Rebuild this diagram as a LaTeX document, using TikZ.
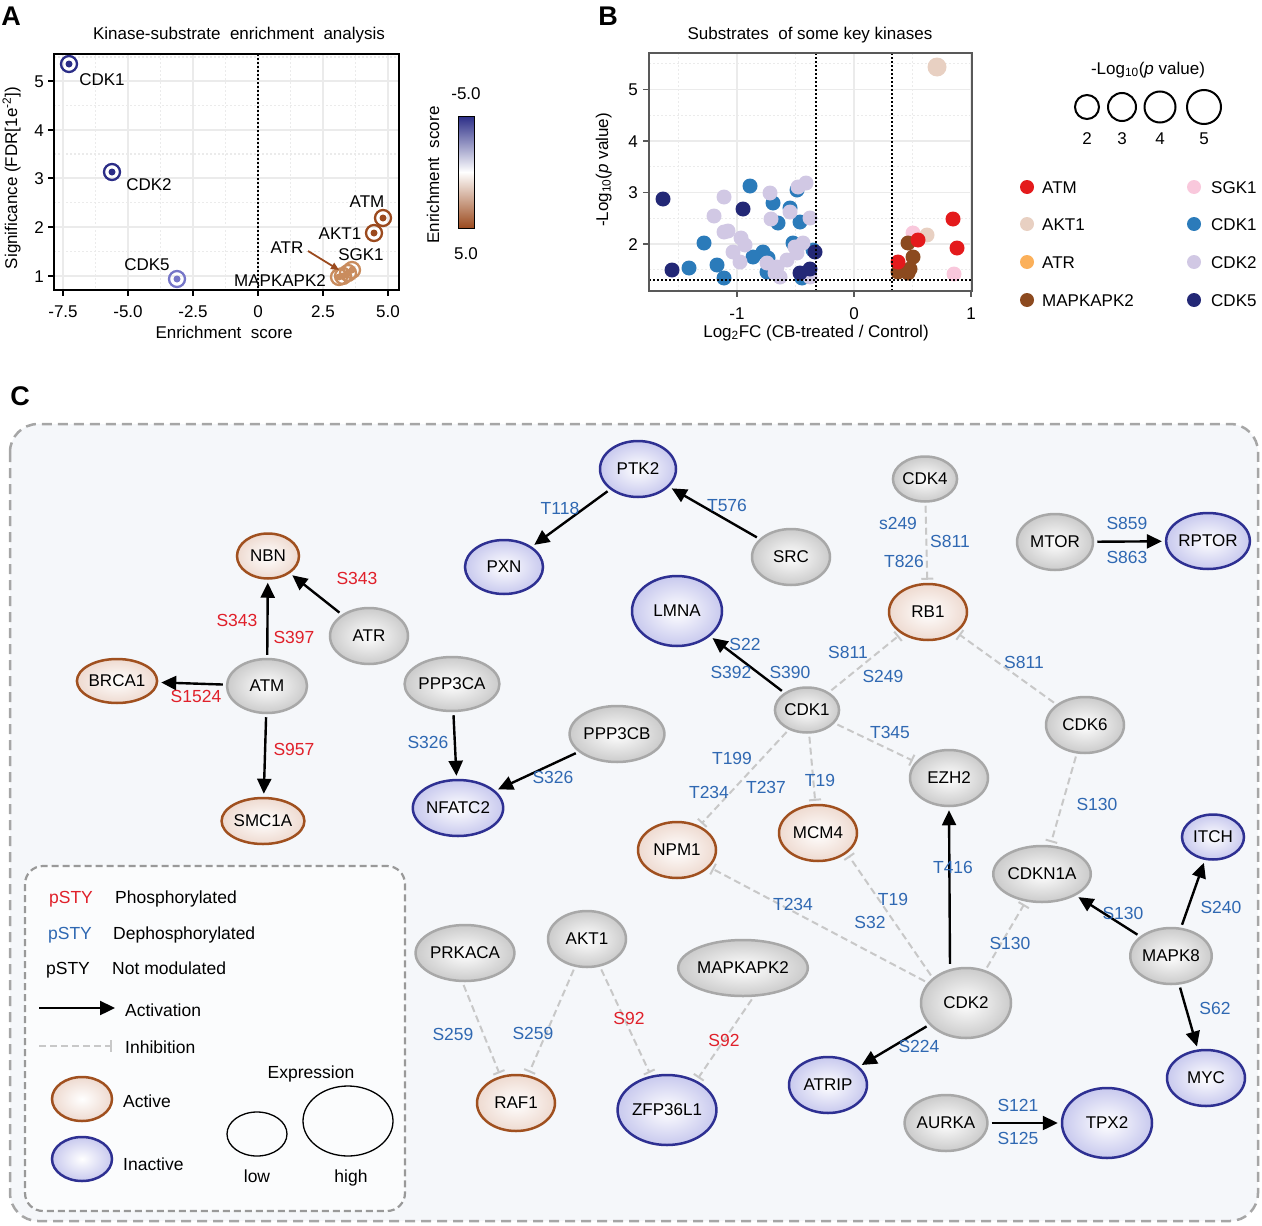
\documentclass[tikz,border=0pt]{standalone}
\usepackage{fontspec}
\setmainfont{Liberation Sans}
\usetikzlibrary{shapes.geometric,arrows.meta}
\definecolor{navyA}{HTML}{2B2D87}
\definecolor{lnavy}{HTML}{7676C8}
\definecolor{brownA}{HTML}{9B4A1E}
\definecolor{lbrown}{HTML}{C98C5E}
\definecolor{cATM}{HTML}{E41A1C}
\definecolor{cAKT}{HTML}{E8D0C2}
\definecolor{cATR}{HTML}{FBB05A}
\definecolor{cMAP}{HTML}{8C4A1F}
\definecolor{cSGK}{HTML}{F9C8DC}
\definecolor{cCDK1}{HTML}{2B7BBA}
\definecolor{cCDK2}{HTML}{D1C8E4}
\definecolor{cCDK5}{HTML}{232876}
\definecolor{phred}{HTML}{E0202A}
\definecolor{dpblue}{HTML}{2F68B2}
\definecolor{kinb}{HTML}{A8A8A8}
\definecolor{kinf}{HTML}{CBCBCB}
\definecolor{actb}{HTML}{A0501F}
\definecolor{actf}{HTML}{EEDAD0}
\definecolor{inab}{HTML}{2E3092}
\definecolor{inaf}{HTML}{C8C9EE}
\definecolor{inhc}{HTML}{C8C8C8}
\definecolor{bgC}{HTML}{F5F7FA}
\definecolor{gridc}{HTML}{EBEBEB}
\begin{document}
\begin{tikzpicture}[x=1pt,y=-1pt,
  txt/.style={font=\fontsize{17.5}{20}\selectfont, inner sep=0pt, text height=12.5pt, text depth=0pt},
  axt/.style={font=\fontsize{17}{20}\selectfont, inner sep=0pt, text height=12.2pt, text depth=0pt},
  ph/.style={txt, text=phred},
  dp/.style={txt, text=dpblue},
  nd/.style={ellipse, inner sep=0pt, line width=2.5pt, font=\fontsize{17}{20}\selectfont, minimum width=78pt, minimum height=56pt},
  kin/.style={nd, draw=kinb, inner color=white, outer color=kinf},
  act/.style={nd, draw=actb, inner color=white, outer color=actf},
  ina/.style={nd, draw=inab, inner color=white, outer color=inaf},
  big/.style={minimum width=90pt, minimum height=70pt},
  sml/.style={minimum width=62pt, minimum height=45pt},
  arr/.style={-{Triangle[length=15pt,width=14pt]}, line width=2.4pt, shorten >=3pt, shorten <=3pt},
  inh/.style={-{Bar[width=12pt,line width=2pt]}, draw=inhc, line width=2pt, dash pattern=on 7pt off 4pt, shorten >=3pt, shorten <=3pt},
  gmaj/.style={draw=gridc, line width=1.5pt},
  gmin/.style={draw=gridc, line width=1.3pt, dash pattern=on 1.5pt off 2.5pt},
  dotblk/.style={draw=black, line width=2pt, dash pattern=on 2pt off 2pt},
  panel/.style={font=\fontsize{27}{30}\selectfont\bfseries, inner sep=0pt}
]
\useasboundingbox (0,0) rectangle (1262,1226);

%================ Panel A =================
\node[panel] (pA) at (11,16) {A};
\node[axt] (tA) at (239,33) {Kinase-substrate\ \ enrichment\ \ analysis};
\begin{scope}
\clip (54,54) rectangle (399,290);
\foreach \x in {63,128,193,258,323,388} \draw[gmaj] (\x,54) -- (\x,290);
\foreach \x in {95.5,160.5,225.5,290.5,355.5} \draw[gmin] (\x,54) -- (\x,290);
\foreach \y in {276,227,178,130,81} \draw[gmaj] (54,\y) -- (399,\y);
\foreach \y in {251.5,202.5,154,105.5,57} \draw[gmin] (54,\y) -- (399,\y);
\draw[dotblk] (258,54) -- (258,290);
\foreach \x/\y/\c in {69/64/navyA,112/172/navyA,177/279/lnavy,383/218/brownA,374/233/brownA,343/276/lbrown,352/270/lbrown,348/273/lbrown,339/277/lbrown}{
  \draw[\c, line width=2.3pt] (\x,\y) circle[radius=8pt];
  \fill[\c] (\x,\y) circle[radius=3.5pt];
}
\end{scope}
\draw[line width=2.2pt] (54,54) rectangle (399,290);
\foreach \x/\t in {63/-7.5,128/-5.0,193/-2.5,258/0,323/2.5,388/5.0}{
  \draw[line width=1.5pt] (\x,290) -- (\x,296);
  \node[axt] (ax\x) at (\x,311) {\t};
}
\foreach \y/\t in {276/1,227/2,178/3,130/4,81/5}{
  \draw[line width=1.5pt] (48,\y) -- (54,\y);
  \node[axt, anchor=east] (ay\t) at (44,\y) {\t};
}
\node[axt] (xlA) at (224,332) {Enrichment\ \ score};
\node[axt, rotate=90] (ylA) at (11,178) {Significance (FDR[1e\textsuperscript{-2}])};
\node[axt] (aCDK1) at (102,79) {CDK1};
\node[axt] (aCDK2) at (149,184) {CDK2};
\node[axt] (aCDK5) at (147,264) {CDK5};
\node[axt] (aATM) at (367,201) {ATM};
\node[axt] (aAKT1) at (340,233) {AKT1};
\node[axt] (aATR) at (287,247) {ATR};
\node[axt] (aSGK1) at (361,254) {SGK1};
\node[axt] (aMAP) at (280,280) {MAPKAPK2};
\coordinate (arrs) at (308,251);
\coordinate (arre) at (339,270);
\draw[brownA, line width=1.8pt, -{Triangle[length=8pt,width=7pt]}] (arrs) -- (arre);
% colorbar
\shade[top color=navyA, bottom color=white] (458,116) rectangle (474,172);
\shade[top color=white, bottom color=brownA] (458,172) rectangle (474,228);
\draw[line width=1pt] (458,116) rectangle (474,228);
\node[axt] (cb1) at (466,93) {-5.0};
\node[axt] (cb2) at (466,253) {5.0};
\node[axt, rotate=90] (cbl) at (433,175) {Enrichment\ \ score};

%================ Panel B =================
\node[panel] (pB) at (608,16) {B};
\node[axt] (tB) at (810,33) {Substrates\ \ of some key kinases};
\begin{scope}
\clip (649,53) rectangle (972,291);
\foreach \x in {737,854,971} \draw[gmaj] (\x,53) -- (\x,291);
\foreach \x in {678.5,795.5,912.5} \draw[gmin] (\x,53) -- (\x,291);
\foreach \y in {244,192.5,141,89.5} \draw[gmaj] (649,\y) -- (972,\y);
\foreach \y in {269.75,218.25,166.75,115.25,63.75} \draw[gmin] (649,\y) -- (972,\y);
\foreach \x/\y in {750/186,704/243,689/268,717/265,724/278,773/203,778/223,797/190,790/208,800/222,793/243,753/257,763/252,768/258,767/272,802/278,813/250}
  \fill[cCDK1] (\x,\y) circle[radius=7.5pt];
\foreach \x/\y in {724/197,714/216,724/232,728/231,741/238,745/245,733/252,740/262,770/193,771/219,790/212,798/187,806/183,810/218,795/247,803/243,787/260,777/267,767/263,780/277,810/277,797/253,775/273}
  \fill[cCDK2] (\x,\y) circle[radius=7.5pt];
\foreach \x/\y in {663/199,672/270,743/209,815/252,810/269,800/273}
  \fill[cCDK5] (\x,\y) circle[radius=7.5pt];
\foreach \x/\y in {913/233,954/274} \fill[cSGK] (\x,\y) circle[radius=7.5pt];
\fill[cAKT] (927,235) circle[radius=7.5pt];
\fill[cAKT] (937,67) circle[radius=9.5pt];
\foreach \x/\y in {908/243,913/257,910/269,898/272,908/273} \fill[cMAP] (\x,\y) circle[radius=7.5pt];
\foreach \x/\y in {953/219,957/248,918/240,898/262} \fill[cATM] (\x,\y) circle[radius=7.5pt];
\draw[dotblk] (816,53) -- (816,291);
\draw[dotblk] (892,53) -- (892,291);
\draw[dotblk] (649,280) -- (972,280);
\end{scope}
\draw[line width=2.4pt, draw=black!65] (649,53) rectangle (972,291);
\foreach \x/\t in {737/-1,854/0,971/1}{
  \draw[line width=1.5pt, draw=black!65] (\x,291) -- (\x,297);
  \node[axt] (bx\t) at (\x,313) {\t};
}
\foreach \y/\t in {244/2,192.5/3,141/4,89.5/5}{
  \draw[line width=1.5pt, draw=black!65] (643,\y) -- (649,\y);
  \node[axt, anchor=east] (by\t) at (638,\y) {\t};
}
\node[axt] (xlB) at (816,331) {Log\textsubscript{2}FC (CB-treated / Control)};
\node[axt, rotate=90] (ylB) at (602,170) {-Log\textsubscript{10}(\textit{p} value)};
% legend B
\node[axt] (lgt) at (1148,68) {-Log\textsubscript{10}(\textit{p} value)};
\foreach \x/\r/\t in {1087/12/2,1122/14/3,1160/15.5/4,1204/17/5}{
  \draw[line width=2pt] (\x,107) circle[radius=\r pt];
  \node[axt] (lgn\t) at (\x,138) {\t};
}
\foreach \y/\c/\t [count=\i] in {187/cATM/ATM,224/cAKT/AKT1,262/cATR/ATR,300/cMAP/MAPKAPK2}{
  \fill[\c] (1027,\y) circle[radius=7pt];
  \node[axt, anchor=west] (lgl\i) at (1042,\y) {\t};
}
\foreach \y/\c/\t [count=\i] in {187/cSGK/SGK1,224/cCDK1/CDK1,262/cCDK2/CDK2,300/cCDK5/CDK5}{
  \fill[\c] (1194,\y) circle[radius=7pt];
  \node[axt, anchor=west] (lgr\i) at (1211,\y) {\t};
}

%================ Panel C =================
\node[panel] (pC) at (20,396) {C};
\draw[draw=black!35, fill=bgC, line width=2.5pt, dash pattern=on 10pt off 6pt, rounded corners=28pt] (10,424) rectangle (1258,1221);

% legend box
\draw[draw=black!40, fill=white!60!bgC, line width=2.2pt, dash pattern=on 7pt off 4pt, rounded corners=18pt] (25,866) rectangle (405,1211);
\node[ph] (lg1a) at (71,897) {pSTY};
\node[txt, anchor=west] (lg1b) at (115,897) {Phosphorylated};
\node[dp] (lg2a) at (70,933) {pSTY};
\node[txt, anchor=west] (lg2b) at (113,933) {Dephosphorylated};
\node[txt] (lg3a) at (68,968) {pSTY};
\node[txt, anchor=west] (lg3b) at (112,968) {Not modulated};
\coordinate (la1) at (39,1008);
\coordinate (la2) at (115,1008);
\draw[arr, shorten >=0pt, shorten <=0pt] (la1) -- (la2);
\node[txt, anchor=west] (lg4) at (125,1010) {Activation};
\coordinate (li1) at (39,1046);
\coordinate (li2) at (112,1046);
\draw[inh, shorten >=0pt, shorten <=0pt] (li1) -- (li2);
\node[txt, anchor=west] (lg5) at (125,1047) {Inhibition};
\node[act, minimum width=60pt, minimum height=44pt] (lgact) at (82,1099) {};
\node[txt, anchor=west] (lg6) at (123,1101) {Active};
\node[ina, minimum width=60pt, minimum height=44pt] (lgina) at (82,1159) {};
\node[txt, anchor=west] (lg7) at (123,1164) {Inactive};
\node[txt] (lg8) at (311,1072) {Expression};
\node[ellipse, draw, line width=1.3pt, minimum width=60pt, minimum height=44pt] (lglow) at (257,1134) {};
\node[ellipse, draw, line width=1.3pt, minimum width=90pt, minimum height=70pt] (lghigh) at (348,1121) {};
\node[txt] (lg9) at (257,1176) {low};
\node[txt] (lg10) at (351,1176) {high};

% nodes
\node[act, sml] (NBN) at (268,556) {NBN};
\node[kin] (ATR) at (369,636) {ATR};
\node[kin, minimum width=80pt, minimum height=54pt] (ATM) at (267,686) {ATM};
\node[act, minimum width=60pt, minimum height=44pt] (BRCA1) at (117,681) {BRCA1};
\node[act, minimum width=60pt, minimum height=46pt] (SMC1A) at (263,821) {SMC1A};
\node[ina, minimum width=76pt] (PTK2) at (638,469) {PTK2};
\node[ina, minimum height=54pt] (PXN) at (504,567) {PXN};
\node[kin] (SRC) at (791,557) {SRC};
\node[ina, big] (LMNA) at (677,611) {LMNA};
\node[kin, minimum height=54pt] (PPP3CA) at (452,684) {PPP3CA};
\node[kin, minimum width=76pt] (PPP3CB) at (617,734) {PPP3CB};
\node[kin, sml] (CDK1) at (807,710) {CDK1};
\node[ina] (NFATC2) at (458,808) {NFATC2};
\node[kin, sml] (CDK4) at (925,479) {CDK4};
\node[kin, minimum width=76pt] (MTOR) at (1055,542) {MTOR};
\node[ina] (RPTOR) at (1208,541) {RPTOR};
\node[act] (RB1) at (928,612) {RB1};
\node[kin] (CDK6) at (1085,725) {CDK6};
\node[kin] (EZH2) at (949,778) {EZH2};
\node[ina, sml] (ITCH) at (1213,837) {ITCH};
\node[kin] (CDKN1A) at (1042,874) {CDKN1A};
\node[kin] (MAPK8) at (1171,956) {MAPK8};
\node[kin, big] (CDK2) at (966,1003) {CDK2};
\node[ina] (MYC) at (1206,1078) {MYC};
\node[kin] (AURKA) at (946,1123) {AURKA};
\node[ina, big] (TPX2) at (1107,1123) {TPX2};
\node[act] (NPM1) at (677,850) {NPM1};
\node[act] (MCM4) at (818,833) {MCM4};
\node[kin] (PRKACA) at (465,953) {PRKACA};
\node[kin] (AKT1) at (587,939) {AKT1};
\node[kin, minimum width=74pt] (MAPKAPK2) at (743,968) {MAPKAPK2};
\node[act] (RAF1) at (516,1103) {RAF1};
\node[ina, big] (ZFP36L1) at (667,1110) {ZFP36L1};
\node[ina] (ATRIP) at (828,1085) {ATRIP};

% activation edges
\draw[arr] (ATM) -- (NBN);
\draw[arr] (ATR) -- (NBN);
\draw[arr] (ATM) -- (BRCA1);
\draw[arr] (ATM) -- (SMC1A);
\draw[arr] (PTK2) -- (PXN);
\draw[arr] (SRC) -- (PTK2);
\draw[arr] (CDK1) -- (LMNA);
\draw[arr] (PPP3CA) -- (NFATC2);
\draw[arr] (PPP3CB) -- (NFATC2);
\draw[arr] (MTOR) -- (RPTOR);
\draw[arr] ([xshift=-16pt]CDK2.north) -- (EZH2.south);
\draw[arr] (CDK2) -- (ATRIP);
\draw[arr] (MAPK8) -- (CDKN1A);
\draw[arr] (MAPK8) -- (ITCH);
\draw[arr] (MAPK8) -- (MYC);
\draw[arr] (AURKA) -- (TPX2);

% inhibition edges
\draw[inh] (CDK4) -- (RB1);
\draw[inh] (CDK1) -- (RB1);
\draw[inh] (CDK6) -- (RB1);
\draw[inh] (CDK1) -- (EZH2);
\draw[inh] (CDK1) -- (MCM4);
\draw[inh] (CDK1) -- (NPM1);
\draw[inh] (CDK6) -- (CDKN1A);
\draw[inh] (CDK2) -- (CDKN1A);
\draw[inh] (CDK2.143) -- (MCM4.325);
\draw[inh] (CDK2) -- (NPM1);
\draw[inh] (PRKACA.265) -- (RAF1.120);
\draw[inh] (AKT1) -- (RAF1);
\draw[inh] (AKT1) -- (ZFP36L1);
\draw[inh] (MAPKAPK2.290) -- (ZFP36L1.45);

% site labels
\foreach \i/\x/\y/\t in {1/237/620/S343,2/294/637/S397,3/357/578/S343,4/196/696/S1524,5/294/749/S957,6/629/1018/S92,7/724/1040/S92}
  \node[ph] (r\i) at (\x,\y) {\t};
\foreach \i/\x/\y/\t in {1/560/508/T118,2/727/505/T576,3/745/644/S22,4/731/672/S392,5/790/672/S390,6/428/742/S326,7/553/777/S326,8/898/523/s249,9/950/541/S811,10/904/561/T826,11/1127/523/S859,12/1127/557/S863,13/848/652/S811,14/883/676/S249,15/1024/662/S811,16/890/732/T345,17/732/758/T199,18/709/792/T234,19/766/787/T237,20/820/780/T19,21/1097/804/S130,22/953/867/T416,23/893/899/T19,24/870/922/S32,25/793/904/T234,26/1010/943/S130,27/1123/913/S130,28/1221/907/S240,29/1215/1008/S62,30/919/1046/S224,31/1018/1105/S121,32/1018/1138/S125,33/453/1034/S259,34/533/1033/S259}
  \node[dp] (b\i) at (\x,\y) {\t};
\end{tikzpicture}
\end{document}
